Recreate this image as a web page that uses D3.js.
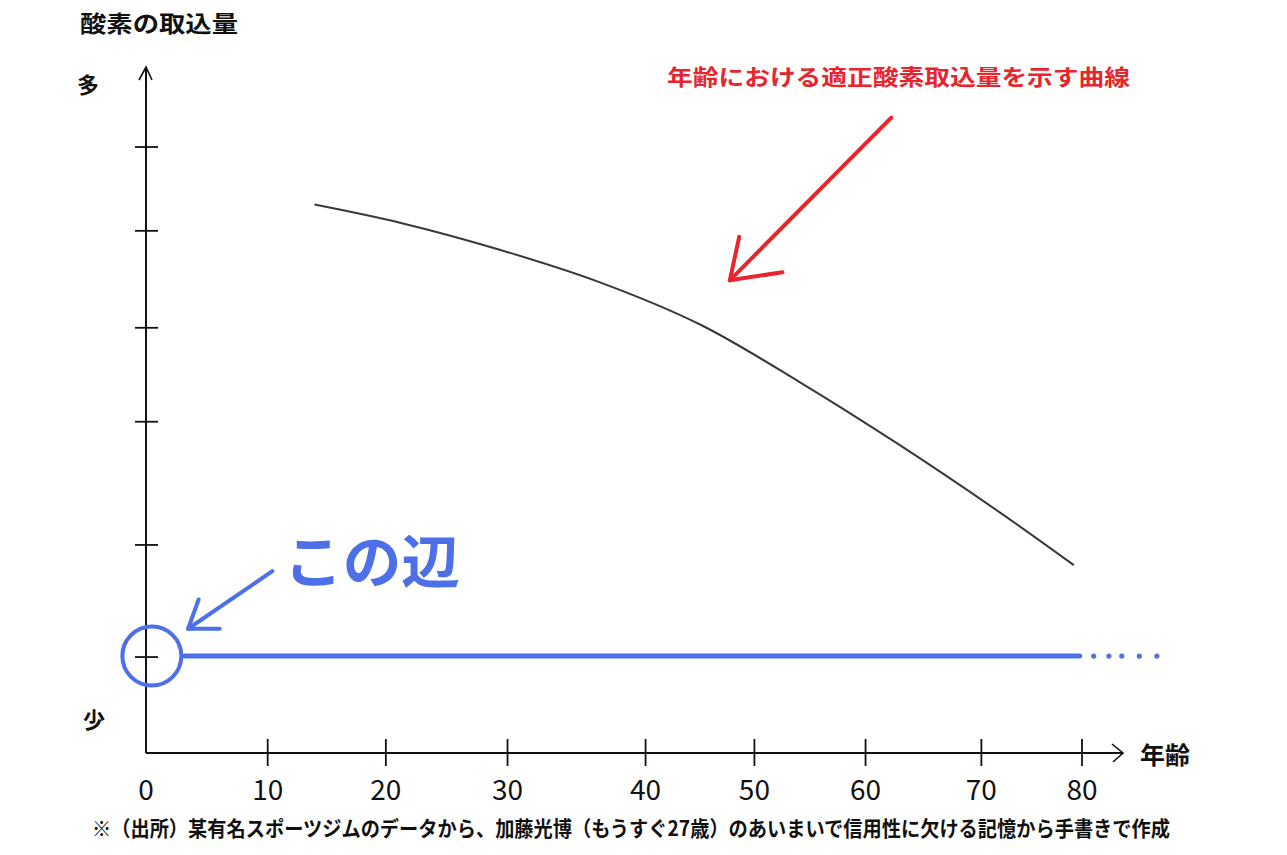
<!DOCTYPE html>
<html><head><meta charset="utf-8">
<script src="https://cdn.jsdelivr.net/npm/d3@7"></script>
<style>
html,body{margin:0;padding:0;background:#fff;}
svg{display:block;}
text{font-family:"Noto Sans CJK JP","Noto Sans",sans-serif;}
</style></head>
<body>
<script>
// ---- data ----
const xTickLabels = ["0","10","20","30","40","50","60","70","80"];
// hand-drawn tick positions (ages) as they appear on the sketch
const xTickAges = [0, 10.4, 20.5, 30.9, 42.7, 52.0, 61.5, 71.4, 80.0];
const yTickValues = [0.95, 2.06, 3.28, 4.21, 5.17, 6.0];
const curveAges = [14.4, 21.7, 30.3, 38.8, 47.4, 55.9, 64.4, 73.0, 79.3];
const curveValues = [5.43, 5.25, 4.98, 4.66, 4.24, 3.67, 3.05, 2.38, 1.86];
const blueAges = [3.3, 79.8];
const blueValues = [0.96, 0.96];
const blueDotAges = [81.0, 82.3, 83.4, 84.9, 86.4];
const blueDotValue = 0.96;

const W = 1287, H = 855;
const svg = d3.select("body").append("svg").attr("width", W).attr("height", H);

const x = d3.scaleLinear().domain([0, 80]).range([146, 1082]);
const y = d3.scaleLinear().domain([0, 6]).range([753, 147]);

const black = "#111";
// axes
svg.append("line").attr("x1", x(0)).attr("x2", 1123).attr("y1", y(0)).attr("y2", y(0))
  .attr("stroke", black).attr("stroke-width", 2);
svg.append("path").attr("d", `M${1112},${y(0)-9} L1123,${y(0)} L${1113},${y(0)+9}`)
  .attr("fill", "none").attr("stroke", black).attr("stroke-width", 1.6);
svg.append("line").attr("x1", x(0)).attr("x2", x(0)).attr("y1", y(0)).attr("y2", 67)
  .attr("stroke", black).attr("stroke-width", 2);
svg.append("path").attr("d", `M${x(0)-7},80 L${x(0)},67 L${x(0)+6},80`)
  .attr("fill", "none").attr("stroke", black).attr("stroke-width", 1.6);

// x ticks
svg.append("g").selectAll("line").data(xTickAges.slice(1)).join("line")
  .attr("x1", d => x(d)).attr("x2", d => x(d)).attr("y1", y(0) - 14).attr("y2", y(0) + 13)
  .attr("stroke", black).attr("stroke-width", 1.8);
svg.append("g").selectAll("text").data(xTickLabels).join("text")
  .attr("x", (d, i) => x(xTickAges[i])).attr("y", 800)
  .attr("text-anchor", "middle").attr("font-size", 28).attr("font-weight", 400)
  .attr("fill", black).text(d => d);

// y ticks
svg.append("g").selectAll("line").data(yTickValues).join("line")
  .attr("x1", x(0) - 11).attr("x2", x(0) + 12).attr("y1", d => y(d)).attr("y2", d => y(d))
  .attr("stroke", black).attr("stroke-width", 1.8);

// curve
const line = d3.line().x(d => x(d[0])).y(d => y(d[1])).curve(d3.curveCatmullRom.alpha(0.5));
svg.append("path").datum(curveAges.map((a, i) => [a, curveValues[i]]))
  .attr("d", line).attr("fill", "none").attr("stroke", "#383838").attr("stroke-width", 2);

// blue line + dots
const blue = "#4d6fe8";
svg.append("path").datum(blueAges.map((a, i) => [a, blueValues[i]]))
  .attr("d", d3.line().x(d => x(d[0])).y(d => y(d[1])))
  .attr("fill", "none").attr("stroke", blue).attr("stroke-width", 5).attr("stroke-linecap", "round");
svg.append("g").selectAll("circle").data(blueDotAges).join("circle")
  .attr("cx", d => x(d)).attr("cy", y(blueDotValue)).attr("r", 2.6).attr("fill", "#5a6fd8");

// blue annotation
svg.append("circle").attr("cx", x(0.5)).attr("cy", y(0.96)).attr("r", 29.5)
  .attr("fill", "none").attr("stroke", blue).attr("stroke-width", 4);
const annLine = d3.line().x(d => x(d[0])).y(d => y(d[1]));
svg.append("path").datum([[10.8, 1.80], [3.6, 1.23]]).attr("d", annLine)
  .attr("stroke", blue).attr("stroke-width", 4).attr("stroke-linecap", "round").attr("fill", "none");
svg.append("path").datum([[4.5, 1.52], [3.6, 1.23], [6.3, 1.23]]).attr("d", annLine)
  .attr("stroke", blue).attr("stroke-width", 4).attr("stroke-linecap", "round")
  .attr("stroke-linejoin", "round").attr("fill", "none");
svg.append("text").attr("x", 284).attr("y", 583).attr("font-size", 58).attr("font-weight", 700)
  .attr("fill", blue).attr("textLength", 176).attr("lengthAdjust", "spacingAndGlyphs").text("この辺");

// red annotation
const red = "#e8242c";
svg.append("path").datum([[63.7, 6.29], [49.9, 4.68]]).attr("d", annLine)
  .attr("stroke", red).attr("stroke-width", 4).attr("stroke-linecap", "round").attr("fill", "none");
svg.append("path").datum([[50.7, 5.11], [49.9, 4.68], [54.4, 4.76]]).attr("d", annLine)
  .attr("stroke", red).attr("stroke-width", 4).attr("stroke-linecap", "round")
  .attr("stroke-linejoin", "round").attr("fill", "none");
svg.append("text").attr("x", 667).attr("y", 85).attr("font-size", 22).attr("font-weight", 700)
  .attr("fill", red).attr("textLength", 463).attr("lengthAdjust", "spacingAndGlyphs")
  .text("年齢における適正酸素取込量を示す曲線");

// labels
svg.append("text").attr("x", 80).attr("y", 32).attr("font-size", 23).attr("font-weight", 700)
  .attr("fill", black).attr("textLength", 158).attr("lengthAdjust", "spacingAndGlyphs").text("酸素の取込量");
svg.append("text").attr("x", 88).attr("y", 93).attr("text-anchor", "middle").attr("font-size", 22)
  .attr("font-weight", 700).attr("fill", black).text("多");
svg.append("text").attr("x", 94).attr("y", 728).attr("text-anchor", "middle").attr("font-size", 22)
  .attr("font-weight", 700).attr("fill", black).text("少");
svg.append("text").attr("x", 1140).attr("y", 764).attr("font-size", 24).attr("font-weight", 700)
  .attr("fill", black).attr("textLength", 50).attr("lengthAdjust", "spacingAndGlyphs").text("年齢");
svg.append("text").attr("x", 92).attr("y", 836).attr("font-size", 21).attr("font-weight", 700)
  .attr("fill", black).attr("textLength", 1078).attr("lengthAdjust", "spacingAndGlyphs")
  .text("※（出所）某有名スポーツジムのデータから、加藤光博（もうすぐ27歳）のあいまいで信用性に欠ける記憶から手書きで作成");
</script>
</body></html>
